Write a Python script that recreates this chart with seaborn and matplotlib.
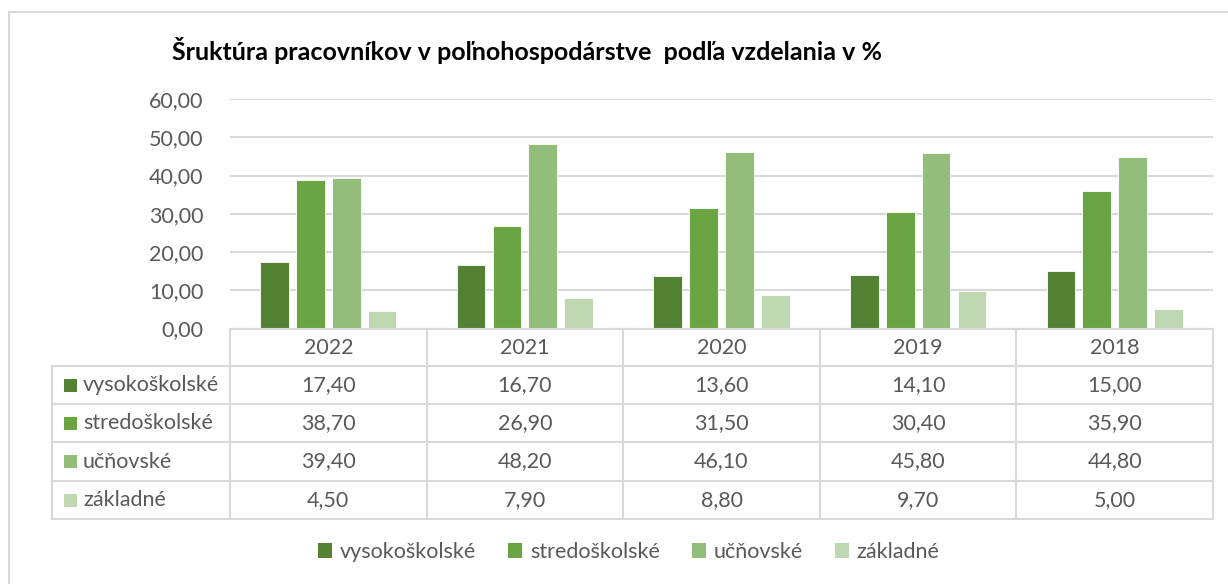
import numpy as np
import pandas as pd
import seaborn as sns
import matplotlib
matplotlib.use("Agg")
import matplotlib.pyplot as plt
from matplotlib.patches import Rectangle, Patch
import matplotlib.transforms as mtransforms

# ---- data ----
years = ["2022", "2021", "2020", "2019", "2018"]
series = ["vysokoškolské", "stredoškolské", "učňovské", "základné"]
vysokoskolske = [17.40, 16.70, 13.60, 14.10, 15.00]
stredoskolske = [38.70, 26.90, 31.50, 30.40, 35.90]
ucnovske = [39.40, 48.20, 46.10, 45.80, 44.80]
zakladne = [4.50, 7.90, 8.80, 9.70, 5.00]
yticks = [0, 10, 20, 30, 40, 50, 60]
title = "Šruktúra pracovníkov v poľnohospodárstve  podľa vzdelania v %"

colors = ["#548235", "#6AA443", "#93BD7B", "#C0D8B2"]
txt = "#595959"
grid = "#D9D9D9"
FS = 15.5

values = [vysokoskolske, stredoskolske, ucnovske, zakladne]
df = pd.DataFrame([
    {"rok": y, "vzdelanie": s, "hodnota": v}
    for s, vals in zip(series, values) for y, v in zip(years, vals)
])

sns.set_theme(style="white")
plt.rcParams["font.family"] = ["Lato", "DejaVu Sans"]

W, H = 1228, 584
fig = plt.figure(figsize=(W / 100, H / 100), dpi=100)
fig.patch.set_facecolor("white")

def fx(px):
    return px / W

def fy(py):
    return 1 - py / H

# outer chart border
fig.add_artist(Rectangle((fx(9), fy(H + 20)), fx(W + 20) - fx(9), fy(12) - fy(H + 20),
                         transform=fig.transFigure, fill=False, edgecolor=grid, lw=1.5))

ax = fig.add_axes([fx(230), fy(328.5), fx(1213) - fx(230), fy(99) - fy(328.5)])
sns.barplot(data=df, x="rok", y="hodnota", hue="vzdelanie", order=years,
            hue_order=series, palette=colors, width=0.73, gap=0.2,
            saturation=1, ax=ax, legend=False, edgecolor="white", linewidth=0.6)

ax.set_xlim(-0.5, len(years) - 0.5)
ax.set_ylim(0, 60)
ax.set_yticks(yticks)
ax.set_yticklabels([f"{t:.2f}".replace(".", ",") for t in yticks], color=txt, fontsize=FS)
ax.tick_params(axis="y", length=0, pad=19)
ax.set_xticks([])
ax.set_xlabel("")
ax.set_ylabel("")
ax.yaxis.grid(True, color=grid, lw=1.5)
ax.set_axisbelow(True)
for s in ax.spines.values():
    s.set_visible(False)

fig.text(fx(172), fy(50), title, fontsize=18, fontweight="bold", color="black",
         ha="left", va="center")

# ---- data table ----
tr = mtransforms.blended_transform_factory(ax.transData, fig.transFigure)
tf = fig.transFigure
top = 329
rows = [366, 404, 442, 481, 519]
lkw = dict(color=grid, lw=1.5, clip_on=False)
ax.plot([-0.5, len(years) - 0.5], [fy(top)] * 2, transform=tr, **lkw)
x_left = fx(52)
x_right = fx(1213)
for r in rows:
    fig.add_artist(plt.Line2D([x_left, x_right], [fy(r)] * 2, transform=tf, **lkw))
for i in range(len(years) + 1):
    ax.plot([i - 0.5] * 2, [fy(top), fy(rows[-1])], transform=tr, **lkw)
fig.add_artist(plt.Line2D([x_left] * 2, [fy(rows[0]), fy(rows[-1])], transform=tf, **lkw))

for i, y in enumerate(years):
    ax.text(i, fy((top + rows[0]) / 2), y, transform=tr, ha="center", va="center",
            color=txt, fontsize=FS)
for k, (s, vals) in enumerate(zip(series, values)):
    yc = fy((rows[k] + rows[k + 1]) / 2)
    fig.add_artist(Rectangle((fx(64), yc - 6.5 / H), 13 / W, 13 / H, transform=tf,
                             facecolor=colors[k], edgecolor="none"))
    fig.text(fx(83), yc, s, ha="left", va="center", color=txt, fontsize=FS)
    for i, v in enumerate(vals):
        ax.text(i, yc, f"{v:.2f}".replace(".", ","), transform=tr, ha="center",
                va="center", color=txt, fontsize=FS)

# ---- legend ----
handles = [Patch(facecolor=c, edgecolor="none", label=s) for c, s in zip(colors, series)]
leg = fig.legend(handles=handles, loc="center", bbox_to_anchor=(fx(629), fy(552)),
                 ncol=4, frameon=False, fontsize=FS, handlelength=0.65, handleheight=0.65,
                 handletextpad=0.35, columnspacing=1.5)
for t in leg.get_texts():
    t.set_color(txt)

fig.savefig("out.png", dpi=100, facecolor="white")
